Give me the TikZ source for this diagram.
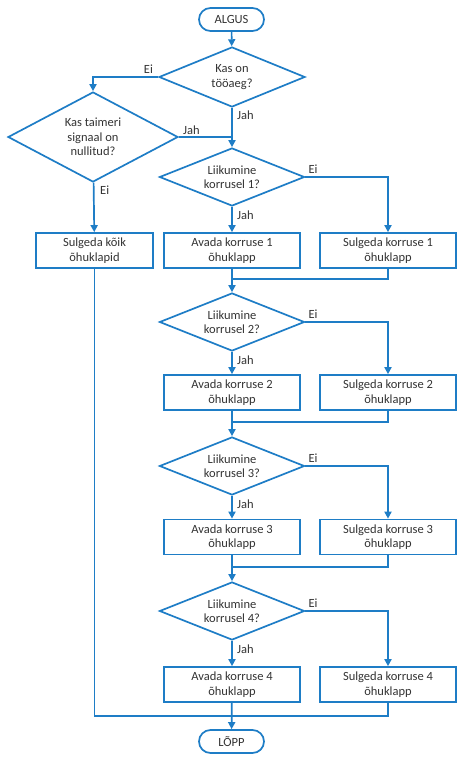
\documentclass[tikz,border=0pt]{standalone}
\usepackage{fontspec}
\setmainfont{Carlito}
\usetikzlibrary{shapes.geometric,arrows.meta}

\definecolor{flowblue}{HTML}{1E7DC6}
\definecolor{flowtext}{HTML}{333333}

\tikzset{
  base/.style={draw=flowblue, line width=1.7pt, text=flowtext,
    font=\fontsize{12.5}{14.5}\selectfont, align=center, inner sep=0pt},
  term/.style={base, rectangle, rounded corners=11.5pt,
    minimum width=65pt, minimum height=23pt},
  decide/.style={base, diamond},
  proc/.style={base, rectangle, minimum width=136pt, minimum height=35pt},
  flow/.style={draw=flowblue, line width=1.7pt},
  arr/.style={flow, -{Triangle[length=7pt,width=7pt]}},
  tag/.style={text=flowtext, font=\fontsize{12.5}{14.5}\selectfont, inner sep=0pt}
}

\begin{document}
\begin{tikzpicture}[x=1pt, y=-1pt]

\useasboundingbox (0,0) rectangle (459,766);

% Start and the two first questions
\node[term] (algus) at (231.5,19.5) {ALGUS};
\node[decide, minimum width=146pt, minimum height=60pt, aspect=2.43] (d1) at (232,77) {Kas on\\tööaeg?};
\node[decide, minimum width=170pt, minimum height=90pt, aspect=1.89] (d2) at (93,137) {Kas taimeri\\signaal on\\nullitud?};
\node[proc, minimum width=117pt] (kaik) at (94.5,250.5) {Sulgeda kõik\\õhuklapid};

% Floor 1
\node[decide, minimum width=145pt, minimum height=58pt, aspect=2.5] (d3) at (232,177) {Liikumine\\korrusel 1?};
\node[proc] (open1) at (232,250.5) {Avada korruse 1\\õhuklapp};
\node[proc] (close1) at (388,250.5) {Sulgeda korruse 1\\õhuklapp};
\coordinate (m1) at (232,279);

% Floor 2
\node[decide, minimum width=145pt, minimum height=58pt, aspect=2.5] (d4) at (232,322) {Liikumine\\korrusel 2?};
\node[proc] (open2) at (232,392.5) {Avada korruse 2\\õhuklapp};
\node[proc] (close2) at (388,392.5) {Sulgeda korruse 2\\õhuklapp};
\coordinate (m2) at (232,422);

% Floor 3
\node[decide, minimum width=145pt, minimum height=58pt, aspect=2.5] (d5) at (232,466) {Liikumine\\korrusel 3?};
\node[proc] (open3) at (232,537) {Avada korruse 3\\õhuklapp};
\node[proc] (close3) at (388,537) {Sulgeda korruse 3\\õhuklapp};
\coordinate (m3) at (232,567);

% Floor 4
\node[decide, minimum width=145pt, minimum height=58pt, aspect=2.5] (d6) at (232,611) {Liikumine\\korrusel 4?};
\node[proc] (open4) at (232,684.5) {Avada korruse 4\\õhuklapp};
\node[proc] (close4) at (388,684.5) {Sulgeda korruse 4\\õhuklapp};
\coordinate (m4) at (232,716);

% End
\node[term] (lopp) at (231.5,741.5) {LÕPP};

% Connectors at the top
\draw[arr] (algus) -- (d1);
\draw[arr] (d1.west) -| (d2.north);
\draw[arr] (d1) -- (d3);
\draw[flow] (d2.east) -- (d2.east -| d3.north);
\draw[arr] (d2) -- (kaik);

% Connectors of the floors
\draw[arr] (d3) -- (open1);
\draw[arr] (d3.east) -| (close1.north);
\draw[flow] (close1.south) |- (m1);
\draw[arr] (open1) -- (d4);

\draw[arr] (d4) -- (open2);
\draw[arr] (d4.east) -| (close2.north);
\draw[flow] (close2.south) |- (m2);
\draw[arr] (open2) -- (d5);

\draw[arr] (d5) -- (open3);
\draw[arr] (d5.east) -| (close3.north);
\draw[flow] (close3.south) |- (m3);
\draw[arr] (open3) -- (d6);

\draw[arr] (d6) -- (open4);
\draw[arr] (d6.east) -| (close4.north);
\draw[flow] (close4.south) |- (m4);
\draw[flow] (kaik.south) |- (m4);
\draw[arr] (open4) -- (lopp);

% Labels
\node[tag, anchor=south east] (ei1) at ([shift={(-5,-3)}]d1.west) {Ei};
\node[tag, anchor=north west] (jah1) at ([shift={(5,3)}]d1.south) {Jah};
\node[tag, anchor=south west] (jah2) at ([shift={(4,-2)}]d2.east) {Jah};
\node[tag, anchor=north west] (ei2) at ([shift={(7,3)}]d2.south) {Ei};
\node[tag, anchor=south west] (ei3) at ([shift={(3,-3)}]d3.east) {Ei};
\node[tag, anchor=north west] (jah3) at ([shift={(5,4)}]d3.south) {Jah};
\node[tag, anchor=south west] (ei4) at ([shift={(3,-3)}]d4.east) {Ei};
\node[tag, anchor=north west] (jah4) at ([shift={(5,4)}]d4.south) {Jah};
\node[tag, anchor=south west] (ei5) at ([shift={(3,-3)}]d5.east) {Ei};
\node[tag, anchor=north west] (jah5) at ([shift={(5,4)}]d5.south) {Jah};
\node[tag, anchor=south west] (ei6) at ([shift={(3,-3)}]d6.east) {Ei};
\node[tag, anchor=north west] (jah6) at ([shift={(5,4)}]d6.south) {Jah};

\end{tikzpicture}
\end{document}
